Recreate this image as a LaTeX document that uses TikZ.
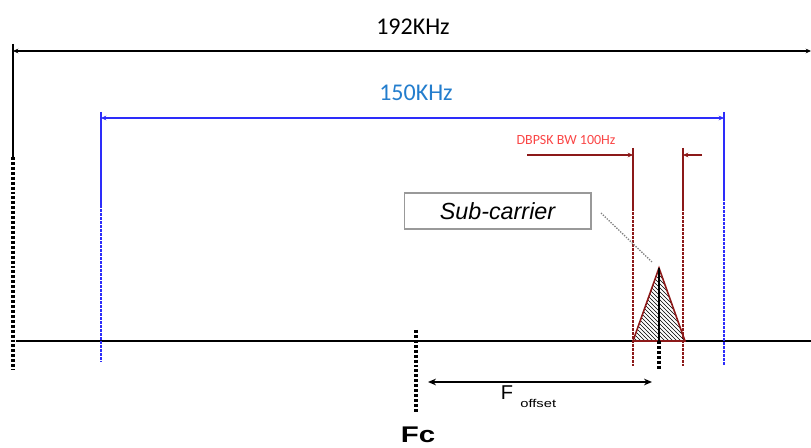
\documentclass[tikz,border=0pt]{standalone}
\usepackage{fontspec}
\setmainfont{Liberation Sans}
\newfontfamily\calfont{Carlito}
\usetikzlibrary{arrows.meta,patterns}
\definecolor{bandblue}{RGB}{45,45,250}
\definecolor{labelblue}{RGB}{35,125,205}
\definecolor{bwred}{RGB}{140,25,25}
\definecolor{bwtext}{RGB}{250,70,70}
\begin{document}
\begin{tikzpicture}[x=0.75pt, y=-0.75pt, >={Stealth[length=4pt,width=3.5pt]},
    solidline/.style={line width=1.5pt},
    blackdots/.style={line width=2.3pt, dash pattern=on 2.2pt off 1.5pt},
    bluedots/.style={bandblue, line width=1.7pt, dash pattern=on 2pt off 1pt},
    reddots/.style={bwred, line width=1.7pt, dash pattern=on 2pt off 1pt},
    calib/.style={font=\calfont\fontsize{18}{20}\selectfont}]
  \useasboundingbox (0,0) rectangle (811,448);

  % 1. frequency axis
  \coordinate (axL) at (16,341);
  \coordinate (axR) at (811,341);
  \draw[line width=1.4pt] (axL) -- (axR);

  % 2. 192KHz span (black)
  \coordinate (wTop) at (13,44);
  \coordinate (wMid) at (13,157);
  \coordinate (wBot) at (13,370);
  \coordinate (wL) at (13,51);
  \coordinate (wR) at (811,51);
  \draw[solidline] (wTop) -- (wMid);
  \draw[blackdots] (wMid) -- (wBot);
  \draw[solidline, <->] (wL) -- (wR);
  \node[calib] (wide) at (413,27) {192KHz};

  % 3. 150KHz band (blue)
  \coordinate (bLTop) at (101,112);
  \coordinate (bLMid) at (101,205);
  \coordinate (bLBot) at (101,362);
  \coordinate (bRTop) at (724,112);
  \coordinate (bRMid) at (724,198);
  \coordinate (bRBot) at (724,365);
  \coordinate (bL) at (101,118);
  \coordinate (bR) at (724,118);
  \draw[bandblue, line width=1.4pt] (bLTop) -- (bLMid) (bRTop) -- (bRMid);
  \draw[bluedots] (bLMid) -- (bLBot) (bRMid) -- (bRBot);
  \draw[bandblue, line width=1.4pt, <->] (bL) -- (bR);
  \node[calib, text=labelblue] (band) at (416,93) {150KHz};

  % 4. DBPSK bandwidth (dark red)
  \coordinate (rLTop) at (633,148);
  \coordinate (rLMid) at (633,208);
  \coordinate (rLBot) at (633,366);
  \coordinate (rRTop) at (683,148);
  \coordinate (rRMid) at (683,208);
  \coordinate (rRBot) at (683,366);
  \coordinate (rOutL) at (527,155);
  \coordinate (rInL) at (633,155);
  \coordinate (rOutR) at (702,155);
  \coordinate (rInR) at (683,155);
  \draw[bwred, line width=1.4pt] (rLTop) -- (rLMid) (rRTop) -- (rRMid);
  \draw[reddots] (rLMid) -- (rLBot) (rRMid) -- (rRBot);
  \draw[bwred, line width=1.4pt, ->] (rOutL) -- (rInL);
  \draw[bwred, line width=1.4pt, ->] (rOutR) -- (rInR);
  \node[text=bwtext, font=\calfont\fontsize{10.5}{12}\selectfont] (bw) at (566,140) {DBPSK BW 100Hz};

  % 5. sub-carrier spectrum
  \coordinate (apex) at (659,268);
  \coordinate (baseL) at (633,341);
  \coordinate (baseR) at (685,341);
  \coordinate (foot) at (659,341);
  \coordinate (footBot) at (659,370);
  \draw[bwred, line width=1.2pt, pattern=north west lines] (baseL) -- (apex) -- (baseR) -- cycle;
  \draw[line width=2pt] (apex) -- (foot);
  \draw[blackdots] (foot) -- (footBot);

  % 6. sub-carrier label and leader
  \node[draw=gray!80, line width=1pt, minimum width=140pt, minimum height=27pt,
        font=\itshape\fontsize{17.5}{20}\selectfont] (sub) at (497.5,211) {Sub-carrier};
  \coordinate (leadA) at (601,213);
  \coordinate (leadB) at (652,262);
  \draw[gray, line width=1pt, densely dotted] (leadA) -- (leadB);

  % 7. carrier Fc and offset
  \coordinate (fcTop) at (416,330);
  \coordinate (fcBot) at (416,412);
  \draw[blackdots] (fcTop) -- (fcBot);
  \node[font=\bfseries\fontsize{17}{20}\selectfont, xscale=1.3] (fc) at (418,435) {Fc};
  \coordinate (offL) at (428,382);
  \coordinate (offR) at (652,382);
  \draw[line width=1.4pt, <->, >={Stealth[length=6pt,width=5pt]}] (offL) -- (offR);
  \node[anchor=base, font=\fontsize{15}{18}\selectfont] (fF) at (507,400) {F};
  \node[anchor=base west, inner sep=0pt, xscale=1.3, font=\fontsize{8.5}{10}\selectfont] (fsub) at (520,408) {offset};
\end{tikzpicture}
\end{document}
